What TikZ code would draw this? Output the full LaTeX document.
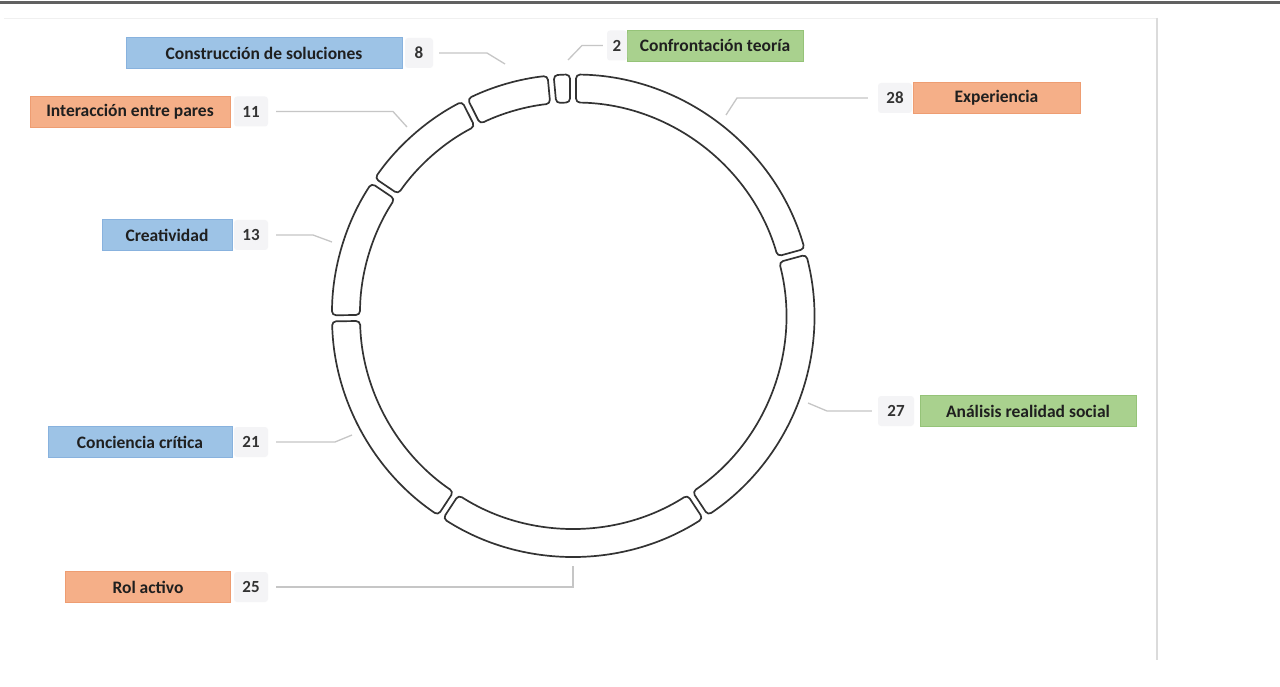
\documentclass[tikz,border=0pt]{standalone}
\usepackage{fontspec}
\setmainfont{Carlito}
\usetikzlibrary{calc}
\definecolor{bluefill}{HTML}{9DC3E6}
\definecolor{blueline}{HTML}{88B2DE}
\definecolor{orangefill}{HTML}{F5AF88}
\definecolor{orangeline}{HTML}{EE9D72}
\definecolor{greenfill}{HTML}{A9D18E}
\definecolor{greenline}{HTML}{95C378}
\definecolor{numfill}{HTML}{F4F4F6}
\definecolor{ringline}{HTML}{333333}
\definecolor{leadgray}{HTML}{C6C6C6}
\begin{document}
\begin{tikzpicture}[x=1pt,y=1pt,
  lbl/.style={draw, line width=0.8pt, minimum height=31pt, inner sep=0pt,
    font=\fontsize{17.5}{20}\selectfont\bfseries, text=black!88},
  lblblue/.style={lbl, fill=bluefill, draw=blueline},
  lblorange/.style={lbl, fill=orangefill, draw=orangeline},
  lblgreen/.style={lbl, fill=greenfill, draw=greenline},
  numbox/.style={fill=numfill, rounded corners=3pt, minimum width=34pt,
    minimum height=30pt, inner sep=0pt,
    font=\fontsize{17}{20}\selectfont\bfseries, text=black!80},
  seg/.style={draw=ringline, fill=white, line width=1.7pt, rounded corners=4pt},
  leader/.style={draw=leadgray, line width=1.3pt}]
\useasboundingbox (0,0) rectangle (1280,-687);
\fill[white] (0,0) rectangle (1280,-687);

% page rule and frame
\draw[line width=2.4pt, color=black!62] (0,-2.5) -- (1280,-2.5);
\draw[line width=0.8pt, color=black!6] (4,-18) -- (1157,-18);
\draw[line width=1.6pt, color=black!14] (1157,-18) -- (1157,-660);

% ring of segments (values 28,27,25,21,13,11,8,2 of 135)
\coordinate (C) at (573,-315.5);
\def\Ro{241}
\def\Ri{213}
\foreach \a/\b in {90/15.333, 15.333/-56.667, -56.667/-123.333,
    -123.333/-179.333, -179.333/-214, -214/-243.333, -243.333/-264.667,
    -264.667/-270} {
  \draw[seg] ($(C)+(\a-0.72:\Ro)$) arc[start angle=\a-0.72, end angle=\b+0.72, radius=\Ro]
    -- ($(C)+(\b+0.81:\Ri)$) arc[start angle=\b+0.81, end angle=\a-0.81, radius=\Ri]
    -- cycle;
}

% labels and values
\node[lblblue, minimum width=276pt] (l8) at (264,-53) {Construcción de soluciones};
\node[numbox, minimum width=28pt] (n8) at (419,-53) {8};
\node[lblorange, minimum width=200pt] (l11) at (130,-111.5) {Interacción entre pares};
\node[numbox] (n11) at (251,-111.5) {11};
\node[lblgreen, minimum width=176pt] (l2) at (715,-45.5) {Confrontación teoría};
\node[numbox, minimum width=20pt] (n2) at (617,-45.5) {2};
\node[lblorange, minimum width=167pt] (l28) at (996.5,-98) {Experiencia};
\node[numbox] (n28) at (895,-98) {28};
\node[lblgreen, minimum width=216pt] (l27) at (1028,-411) {Análisis realidad social};
\node[numbox, minimum width=36pt] (n27) at (896,-411) {27};
\node[lblblue, minimum width=130pt] (l13) at (167,-235) {Creatividad};
\node[numbox] (n13) at (251,-235) {13};
\node[lblblue, minimum width=184pt] (l21) at (140,-442) {Conciencia crítica};
\node[numbox] (n21) at (251,-442) {21};
\node[lblorange, minimum width=165pt] (l25) at (148,-587) {Rol activo};
\node[numbox] (n25) at (251,-587) {25};

% leader lines from values to ring
\coordinate (b8) at (487,-53);    \coordinate (k8) at (505,-64);
\coordinate (b11) at (393,-111.5); \coordinate (k11) at (407,-127);
\coordinate (b2) at (582,-45.5);  \coordinate (k2) at (568,-60);
\coordinate (b28) at (737,-98);   \coordinate (k28) at (726,-115);
\coordinate (b27) at (827,-411);  \coordinate (k27) at (808,-403);
\coordinate (b13) at (313,-235);  \coordinate (k13) at (332,-242);
\coordinate (b21) at (335,-442);  \coordinate (k21) at (352,-435);
\coordinate (b25) at (573,-587);  \coordinate (k25) at (573,-566);

\draw[leader] ($(n8.east)+(6,0)$) -- (b8) -- (k8);
\draw[leader] ($(n11.east)+(8,0)$) -- (b11) -- (k11);
\draw[leader] ($(n2.west)+(-4,0)$) -- (b2) -- (k2);
\draw[leader] ($(n28.west)+(-10,0)$) -- (b28) -- (k28);
\draw[leader] ($(n27.west)+(-6,0)$) -- (b27) -- (k27);
\draw[leader] ($(n13.east)+(8,0)$) -- (b13) -- (k13);
\draw[leader] ($(n21.east)+(8,0)$) -- (b21) -- (k21);
\draw[leader] ($(n25.east)+(8,0)$) -- (b25) -- (k25);
\end{tikzpicture}
\end{document}
